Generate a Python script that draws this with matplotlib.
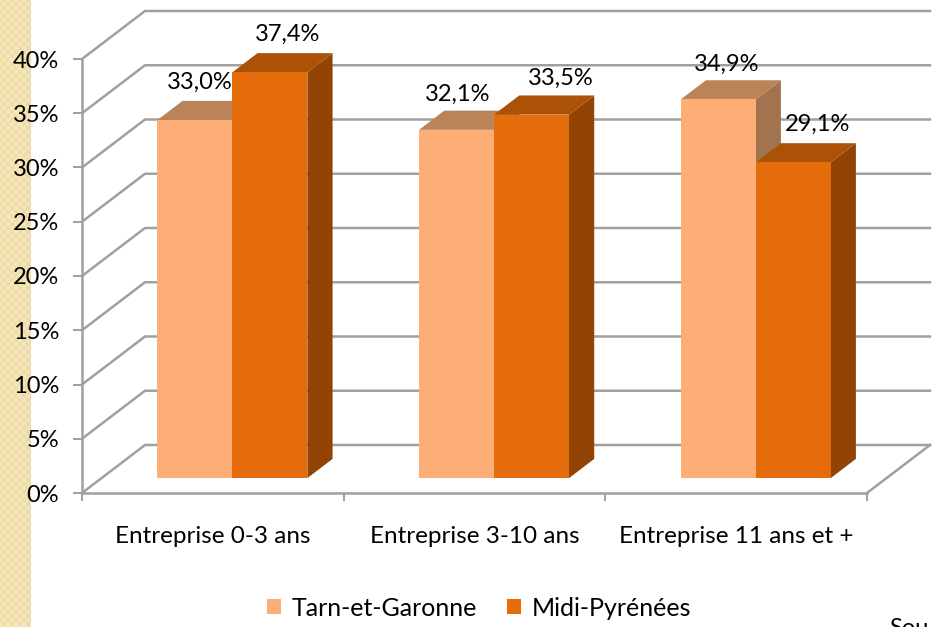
import numpy as np
import matplotlib
matplotlib.use("Agg")
import matplotlib.pyplot as plt
from matplotlib.patches import Patch, Polygon

plt.rcParams['font.family'] = ['Lato', 'DejaVu Sans']

categories = ['Entreprise 0-3 ans', 'Entreprise 3-10 ans', 'Entreprise 11 ans et +']
series_names = ['Tarn-et-Garonne', 'Midi-Pyrénées']
tarn = [33.0, 32.1, 34.9]
midi = [37.4, 33.5, 29.1]
y_ticks = [0, 5, 10, 15, 20, 25, 30, 35, 40]

W, H = 933, 627

# colours: front, top, side
TARN_COLS = ('#fdae77', '#bb8358', '#a37350')
MIDI_COLS = ('#e46c0a', '#ab5206', '#934405')
GRID = '#a0a0a0'

# oblique depth of the chart box, in data units
DX = 63 / (785 / 3)
DY = 48 / (434 / 40)
BAR_W = 75 / (785 / 3)
BAR_D0, BAR_D1 = 0.31, 0.71

# hand placed labels, pixel nudges from the top of each bar
TARN_NUDGE = [(-20, -4), (-24, -6), (-17, -6)]
MIDI_NUDGE = [(-7, -3), (4, -5), (-1, -3)]


def proj(x, y, d):
    return x + d * DX, y + d * DY


def draw_bar(ax, x0, val, cols):
    x1 = x0 + BAR_W
    front = [proj(x0, 0, BAR_D0), proj(x1, 0, BAR_D0), proj(x1, val, BAR_D0), proj(x0, val, BAR_D0)]
    top = [proj(x0, val, BAR_D0), proj(x1, val, BAR_D0), proj(x1, val, BAR_D1), proj(x0, val, BAR_D1)]
    side = [proj(x1, 0, BAR_D0), proj(x1, 0, BAR_D1), proj(x1, val, BAR_D1), proj(x1, val, BAR_D0)]
    ax.add_patch(Polygon(side, fc=cols[2], ec='none', clip_on=False, zorder=3))
    ax.add_patch(Polygon(top, fc=cols[1], ec='none', clip_on=False, zorder=3))
    ax.add_patch(Polygon(front, fc=cols[0], ec='none', clip_on=False, zorder=4))


def bar_label(ax, x0, val, nudge):
    lx, ly = proj(x0 + BAR_W / 2, val, BAR_D1)
    offset = (nudge[0] * 0.72, (6 + nudge[1]) * 0.72 + 4)
    ax.annotate(f'{val:.1f}%'.replace('.', ','), (lx, ly), xytext=offset, textcoords='offset points',
                ha='center', va='bottom', fontsize=17, color='black', zorder=5, annotation_clip=False)


fig = plt.figure(figsize=(W / 100, H / 100), dpi=100, facecolor='white')

# decorative strip on the left
bg = fig.add_axes([0, 0, 31 / W, 1])
tile = np.array([[0, 1, 1, 0], [1, 0, 0, 1], [1, 0, 0, 1], [0, 1, 1, 0]])
pattern = np.tile(np.kron(tile, np.ones((2, 2))), (79, 4))[:627, :31]
rgb = np.zeros(pattern.shape + (3,))
rgb[pattern == 0] = (0.97, 0.91, 0.74)
rgb[pattern == 1] = (0.94, 0.87, 0.66)
# darker towards the right edge
fade = np.clip((np.arange(31) - 20) / 11, 0, 1)[None, :, None]
rgb = rgb * (1 - 0.12 * fade) + np.array([0.72, 0.70, 0.68]) * 0.12 * fade
bg.imshow(rgb, aspect='auto', extent=(0, 31, 0, 627), interpolation='bilinear')
bg.axis('off')

ax = fig.add_axes([82 / W, 1 - 493 / H, 785 / W, 434 / H])
ax.set_xlim(0, 3)
ax.set_ylim(0, 40)
ax.patch.set_visible(False)

# back wall gridlines and side wall slants
for t in y_ticks:
    x_a, y_a = proj(0, t, 0)
    x_b, y_b = proj(0, t, 1)
    x_c, y_c = proj(3, t, 1)
    ax.plot([x_a, x_b, x_c], [y_a, y_b, y_c], color=GRID, lw=1.8, clip_on=False, zorder=1,
            solid_joinstyle='miter')
# floor right edge
x_a, y_a = proj(3, 0, 0)
x_b, y_b = proj(3, 0, 1)
ax.plot([x_a, x_b], [y_a, y_b], color=GRID, lw=1.8, clip_on=False, zorder=1)

for i in range(3):
    x_left = i + 0.5 - BAR_W
    draw_bar(ax, x_left, tarn[i], TARN_COLS)
    draw_bar(ax, x_left + BAR_W, midi[i], MIDI_COLS)
    bar_label(ax, x_left, tarn[i], TARN_NUDGE[i])
    bar_label(ax, x_left + BAR_W, midi[i], MIDI_NUDGE[i])

for s in ('top', 'right'):
    ax.spines[s].set_visible(False)
for s in ('left', 'bottom'):
    ax.spines[s].set_color(GRID)
    ax.spines[s].set_linewidth(1.8)

ax.set_yticks(y_ticks)
ax.set_yticklabels([f'{t}%' for t in y_ticks])
ax.set_xticks([0, 1, 2, 3])
ax.set_xticklabels([])
ax.set_xticks([0.5, 1.5, 2.5], minor=True)
ax.set_xticklabels(categories, minor=True)
ax.tick_params(axis='y', length=6.5, width=1.4, color=GRID, labelsize=17, pad=10)
ax.tick_params(axis='x', which='major', length=5.8, width=1.4, color=GRID)
ax.tick_params(axis='x', which='minor', length=0, labelsize=17.5, pad=24)

handles = [Patch(fc=TARN_COLS[0], ec='none'), Patch(fc=MIDI_COLS[0], ec='none')]
fig.legend(handles, series_names, loc='center', bbox_to_anchor=(479 / W, 1 - 608 / H),
           ncol=2, frameon=False, fontsize=18, handlelength=0.56, handleheight=0.56,
           handletextpad=0.42, columnspacing=1.2)

# source note, cut by the bottom edge like in the original
fig.text(889 / W, 1 - 635 / H, 'Sou', fontsize=17, color='black', va='baseline', ha='left')

fig.savefig('out.png', dpi=100)
